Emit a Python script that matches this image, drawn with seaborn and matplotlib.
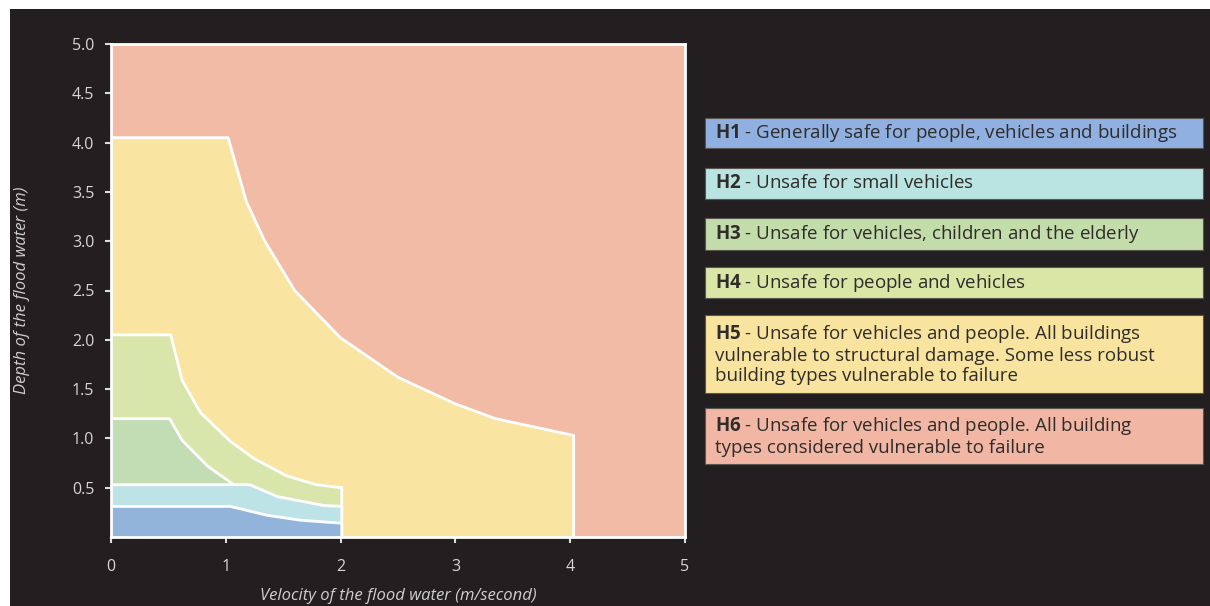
import matplotlib
matplotlib.use("Agg")
from matplotlib import pyplot as plt
from matplotlib.patches import Rectangle
import numpy as np
import pandas as pd
import seaborn as sns

# --- data: upper boundary of each hazard zone (velocity m/s, depth m) ---
h5_x = [0, 1.02, 1.18, 1.34, 1.6, 2.0, 2.5, 3.0, 3.35, 4.03]
h5_y = [4.05, 4.05, 3.4, 3.0, 2.5, 2.02, 1.62, 1.35, 1.2, 1.03]

h4_x = [0, 0.52, 0.62, 0.78, 1.04, 1.24, 1.53, 1.79, 2.01]
h4_y = [2.05, 2.05, 1.59, 1.26, 0.97, 0.8, 0.62, 0.53, 0.5]

h3_x = [0, 0.51, 0.62, 0.84, 1.07]
h3_y = [1.2, 1.2, 0.98, 0.72, 0.53]

h2_x = [0, 1.21, 1.45, 1.85, 2.01]
h2_y = [0.53, 0.53, 0.41, 0.32, 0.31]

h1_x = [0, 1.04, 1.36, 1.65, 2.01]
h1_y = [0.31, 0.31, 0.22, 0.17, 0.14]

zone_names = ["H1", "H2", "H3", "H4", "H5", "H6"]
zone_text = [
    "Generally safe for people, vehicles and buildings",
    "Unsafe for small vehicles",
    "Unsafe for vehicles, children and the elderly",
    "Unsafe for people and vehicles",
    "Unsafe for vehicles and people. All buildings\nvulnerable to structural damage. Some less robust\nbuilding types vulnerable to failure",
    "Unsafe for vehicles and people. All building\ntypes considered vulnerable to failure",
]
x_ticks = [0, 1, 2, 3, 4, 5]
y_ticks = [0.5, 1.0, 1.5, 2.0, 2.5, 3.0, 3.5, 4.0, 4.5, 5.0]

# colours
bg = "#231f20"
plot_cols = {"H1": "#93b4da", "H2": "#bde3e6", "H3": "#c2dcb3",
             "H4": "#d9e6ab", "H5": "#f9e4a2", "H6": "#f2bba5"}
box_cols = {"H1": "#8fb0e0", "H2": "#b9e4e1", "H3": "#c2dcaa",
            "H4": "#d9e6a6", "H5": "#f8e49e", "H6": "#f1b7a4"}

sns.set_theme(style="ticks")
plt.rcParams["font.family"] = ["Open Sans", "DejaVu Sans"]
plt.rcParams["mathtext.fontset"] = "custom"
plt.rcParams["mathtext.bf"] = "Open Sans:bold"
plt.rcParams["mathtext.rm"] = "Open Sans"

W, H = 1210, 606
fig = plt.figure(figsize=(W / 100, H / 100), dpi=100, facecolor="white")
fig.patches.append(Rectangle((10 / W, 0), 1 - 10 / W, 1 - 9 / H,
                             transform=fig.transFigure, facecolor=bg,
                             edgecolor="none", zorder=-10))

ax = fig.add_axes([111 / W, 1 - 537 / H, (685 - 111) / W, (537 - 44) / H])
ax.set_facecolor(plot_cols["H6"])

zones = [("H5", h5_x, h5_y), ("H4", h4_x, h4_y), ("H3", h3_x, h3_y),
         ("H2", h2_x, h2_y), ("H1", h1_x, h1_y)]
for i, (name, xs, ys) in enumerate(zones):
    ax.fill_between(xs, ys, 0, color=plot_cols[name], lw=0, zorder=1 + 2 * i)
    edge = pd.DataFrame({"x": xs + [xs[-1]], "y": ys + [0]})
    sns.lineplot(data=edge, x="x", y="y", sort=False, estimator=None,
                 color="white", lw=2, ax=ax, zorder=2 + 2 * i)

ax.set_xlim(0, 5)
ax.set_ylim(0, 5)
ax.set_xticks(x_ticks)
ax.set_xticklabels([str(t) for t in x_ticks])
ax.set_yticks(y_ticks)
ax.set_yticklabels([f"{t:.1f}" for t in y_ticks])
for s in ax.spines.values():
    s.set_color("white")
    s.set_linewidth(2)
    s.set_zorder(20)
ax.tick_params(colors="#dcdcdc", labelsize=11.5, length=4, width=1.5,
               labelcolor="#d6d6d6")
ax.tick_params(axis="x", pad=12)
ax.tick_params(axis="y", pad=8)
ax.set_xlabel("Velocity of the flood water (m/second)", color="#cfcfcf",
              fontsize=12, style="italic", labelpad=9)
ax.set_ylabel("Depth of the flood water (m)", color="#cfcfcf",
              fontsize=12, style="italic", labelpad=30)

# legend boxes (pixel rows)
box_rows = [(118, 148), (168, 199), (218, 250), (267, 298), (315, 393), (408, 464)]
for name, txt, (top, bot) in zip(zone_names, zone_text, box_rows):
    fig.patches.append(Rectangle((705 / W, 1 - bot / H), (1203 - 705) / W,
                                 (bot - top) / H, transform=fig.transFigure,
                                 facecolor=box_cols[name], edgecolor="#5a5550",
                                 lw=0.8))
    fig.text(715 / W, 1 - (top + bot) / 2 / H,
             r"$\bf{" + name + "}$ - " + txt, color="#2f2c2a", fontsize=13.5,
             va="center", ha="left", linespacing=1.15)

fig.savefig("out.png", dpi=100, facecolor=fig.get_facecolor())
